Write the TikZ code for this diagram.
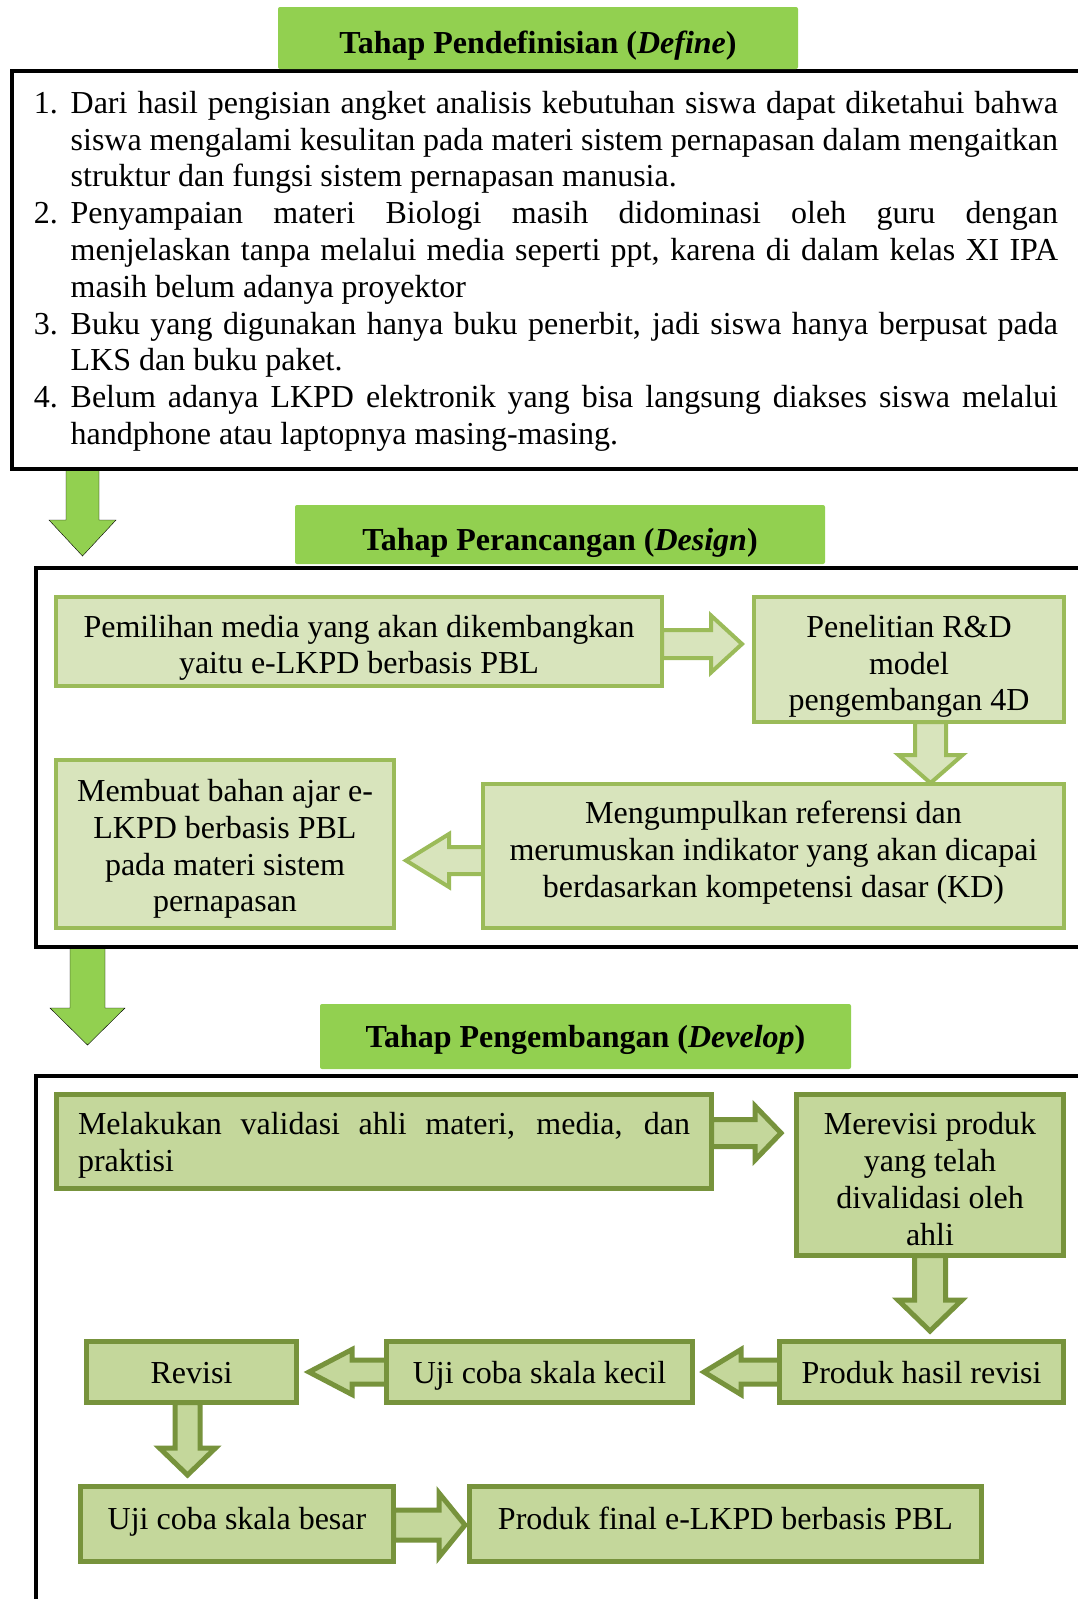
\documentclass[tikz,border=0pt]{standalone}
\usepackage{fontspec}
\setmainfont{Liberation Serif}
\usetikzlibrary{calc}
\definecolor{tgreen}{HTML}{92D050}
\definecolor{dfill}{HTML}{D8E4BC}
\definecolor{dline}{HTML}{9BBB59}
\definecolor{vfill}{HTML}{C4D79B}
\definecolor{vline}{HTML}{77933C}
\pgfdeclarelayer{bg}
\pgfsetlayers{bg,main}
\newcommand\blockarr[6]{%
  \coordinate (ba-b) at ($(#3)!#6!(#2)$);
  \draw[#1] ($(#2)!#4!90:(#3)$) -- ($(ba-b)!#4!90:(#3)$) -- ($(ba-b)!#5!90:(#3)$) -- (#3)
    -- ($(ba-b)!#5!-90:(#3)$) -- ($(ba-b)!#4!-90:(#3)$) -- ($(#2)!#4!-90:(#3)$) -- cycle;}
\newcommand\up[1]{\rule{0pt}{#1pt}}
\tikzset{
  every node/.style={font=\fontsize{32}{36.8}\selectfont, inner sep=0pt, outer sep=0pt},
  titlebox/.style={fill=tgreen, rounded corners=2pt, font=\bfseries\fontsize{32}{36.8}\selectfont},
  dbox/.style={draw=dline, fill=dfill, line width=4pt, align=center},
  vbox/.style={draw=vline, fill=vfill, line width=5pt, align=center},
  darr/.style={draw=dline, fill=dfill, line width=4pt},
  varr/.style={draw=vline, fill=vfill, line width=5pt},
  sarr/.style={fill=tgreen},
  framebox/.style={draw=black, line width=4pt, anchor=north west},
}
\begin{document}
\begin{tikzpicture}[x=1pt, y=-1pt]
\useasboundingbox (0,0) rectangle (1077,1599);
\begin{pgfonlayer}{bg}
\fill[white] (0,0) rectangle (1077,1599);
\end{pgfonlayer}

% frames
\node[framebox, minimum width=1100, minimum height=398] (fr1) at (12,71) {};
\node[framebox, minimum width=1100, minimum height=379] (fr2) at (36,568) {};
\node[framebox, minimum width=1100, minimum height=600] (fr3) at (36,1076) {};

% titles
\node[titlebox, minimum width=520, minimum height=62, text height=38.2, text depth=6.9] (t1) at (538,38) {Tahap Pendefinisian (\textit{Define})};
\node[titlebox, minimum width=530, minimum height=59, text height=38.2, text depth=6.9] (t2) at (560,534.5) {Tahap Perancangan (\textit{Design})};
\node[titlebox, minimum width=531, minimum height=65, text height=28.9, text depth=6.9] (t3) at (585.5,1036.5) {Tahap Pengembangan (\textit{Develop})};

% define text
\node[anchor=north west, text width=1024, align=justify] (dt) at (34,91) {%
\hangindent=36.7pt\hangafter=1\noindent\makebox[36.7pt][l]{1.}Dari hasil pengisian angket analisis kebutuhan siswa dapat diketahui bahwa\linebreak siswa mengalami kesulitan pada materi sistem pernapasan dalam mengaitkan\linebreak struktur dan fungsi sistem pernapasan manusia.\par
\hangindent=36.7pt\hangafter=1\noindent\makebox[36.7pt][l]{2.}Penyampaian materi Biologi masih didominasi oleh guru dengan\linebreak menjelaskan tanpa melalui media seperti ppt, karena di dalam kelas XI IPA\linebreak masih belum adanya proyektor\par
\hangindent=36.7pt\hangafter=1\noindent\makebox[36.7pt][l]{3.}Buku yang digunakan hanya buku penerbit, jadi siswa hanya berpusat pada\linebreak LKS dan buku paket.\par
\hangindent=36.7pt\hangafter=1\noindent\makebox[36.7pt][l]{4.}Belum adanya LKPD elektronik yang bisa langsung diakses siswa melalui\linebreak handphone atau laptopnya masing-masing.\par};

% design boxes
\node[dbox, minimum width=606, minimum height=89] (A) at (359,641.5) {\up{35}Pemilihan media yang akan dikembangkan\\yaitu e-LKPD berbasis PBL};
\node[dbox, minimum width=310, minimum height=125] (B) at (909,659.5) {\up{36}Penelitian R\&D\\model\\pengembangan 4D};
\node[dbox, minimum width=581, minimum height=144] (C) at (773.5,856) {Mengumpulkan referensi dan\\merumuskan indikator yang akan dicapai\\berdasarkan kompetensi dasar (KD)\rule[-13pt]{0pt}{13pt}};
\node[dbox, minimum width=338, minimum height=168] (D) at (225,844) {\up{32}Membuat bahan ajar e-\\LKPD berbasis PBL\\pada materi sistem\\pernapasan};

% develop boxes
\node[vbox, minimum width=655, minimum height=94, text width=612, align=justify] (E) at (384,1141.5) {\up{30}Melakukan validasi ahli materi, media, dan\linebreak praktisi};
\node[vbox, minimum width=267, minimum height=161] (F) at (930,1175) {\up{30}Merevisi produk\\yang telah\\divalidasi oleh\\ahli};
\node[vbox, minimum width=284, minimum height=61, text height=22, text depth=0] (G) at (921.5,1372) {Produk hasil revisi};
\node[vbox, minimum width=306, minimum height=61, text height=22, text depth=0] (H) at (539.5,1372) {Uji coba skala kecil};
\node[vbox, minimum width=210, minimum height=61, text height=22, text depth=0] (I) at (191.5,1372) {Revisi};
\node[vbox, minimum width=313, minimum height=75, text height=22, text depth=12] (J) at (237,1524) {Uji coba skala besar};
\node[vbox, minimum width=512, minimum height=75, text height=22, text depth=12] (K) at (725.5,1524) {Produk final e-LKPD berbasis PBL};

\begin{pgfonlayer}{bg}
% solid arrows between stages
\coordinate (s1) at ($(fr1.south west)+(70.5,0)$);
\coordinate (e1) at ($(fr2.north west)+(46.5,-12)$);
\blockarr{sarr}{s1}{e1}{16.5pt}{33.5pt}{36pt}
\coordinate (s2) at ($(fr2.south west)+(51.5,0)$);
\coordinate (e2) at ($(fr3.north west)+(51.5,-31)$);
\blockarr{sarr}{s2}{e2}{17.5pt}{37.5pt}{37pt}
% design arrows
\coordinate (p1) at ($(A.east)+(0,2.5)$);
\coordinate (q1) at ($(A.east -| B.west)+(-12,2.5)$);
\blockarr{darr}{p1}{q1}{14pt}{28.5pt}{31pt}
\coordinate (p2) at ($(B.south)+(21.5,0)$);
\coordinate (q2) at ($(B.south |- C.north)+(21.5,-1)$);
\blockarr{darr}{p2}{q2}{15.5pt}{32pt}{28pt}
\coordinate (p3) at ($(C.west)+(0,4.5)$);
\coordinate (q3) at ($(C.west -| D.east)+(12,4.5)$);
\blockarr{darr}{p3}{q3}{13.5pt}{26.5pt}{43pt}
% develop arrows
\coordinate (p4) at ($(E.east)+(0,-8.5)$);
\coordinate (q4) at ($(E.east -| F.west)+(-15.5,-8.5)$);
\blockarr{varr}{p4}{q4}{13.5pt}{27pt}{26pt}
\coordinate (p5) at (F.south);
\coordinate (q5) at ($(F.south |- G.north)+(0,-10.5)$);
\blockarr{varr}{p5}{q5}{15.5pt}{32pt}{31pt}
\coordinate (p6) at (G.west);
\coordinate (q6) at ($(G.west -| H.east)+(11.5,0)$);
\blockarr{varr}{p6}{q6}{12pt}{22.5pt}{37pt}
\coordinate (p7) at (H.west);
\coordinate (q7) at ($(H.west -| I.east)+(12.5,0)$);
\blockarr{varr}{p7}{q7}{12pt}{22.5pt}{43pt}
\coordinate (p8) at ($(I.south)+(-4,0)$);
\coordinate (q8) at ($(I.south |- J.north)+(-4,-11.5)$);
\blockarr{varr}{p8}{q8}{12.5pt}{28pt}{27pt}
\coordinate (p9) at ($(J.east)+(0,1)$);
\coordinate (q9) at ($(J.east -| K.west)+(-4.5,1)$);
\blockarr{varr}{p9}{q9}{15pt}{32pt}{26pt}
\end{pgfonlayer}
\end{tikzpicture}
\end{document}
